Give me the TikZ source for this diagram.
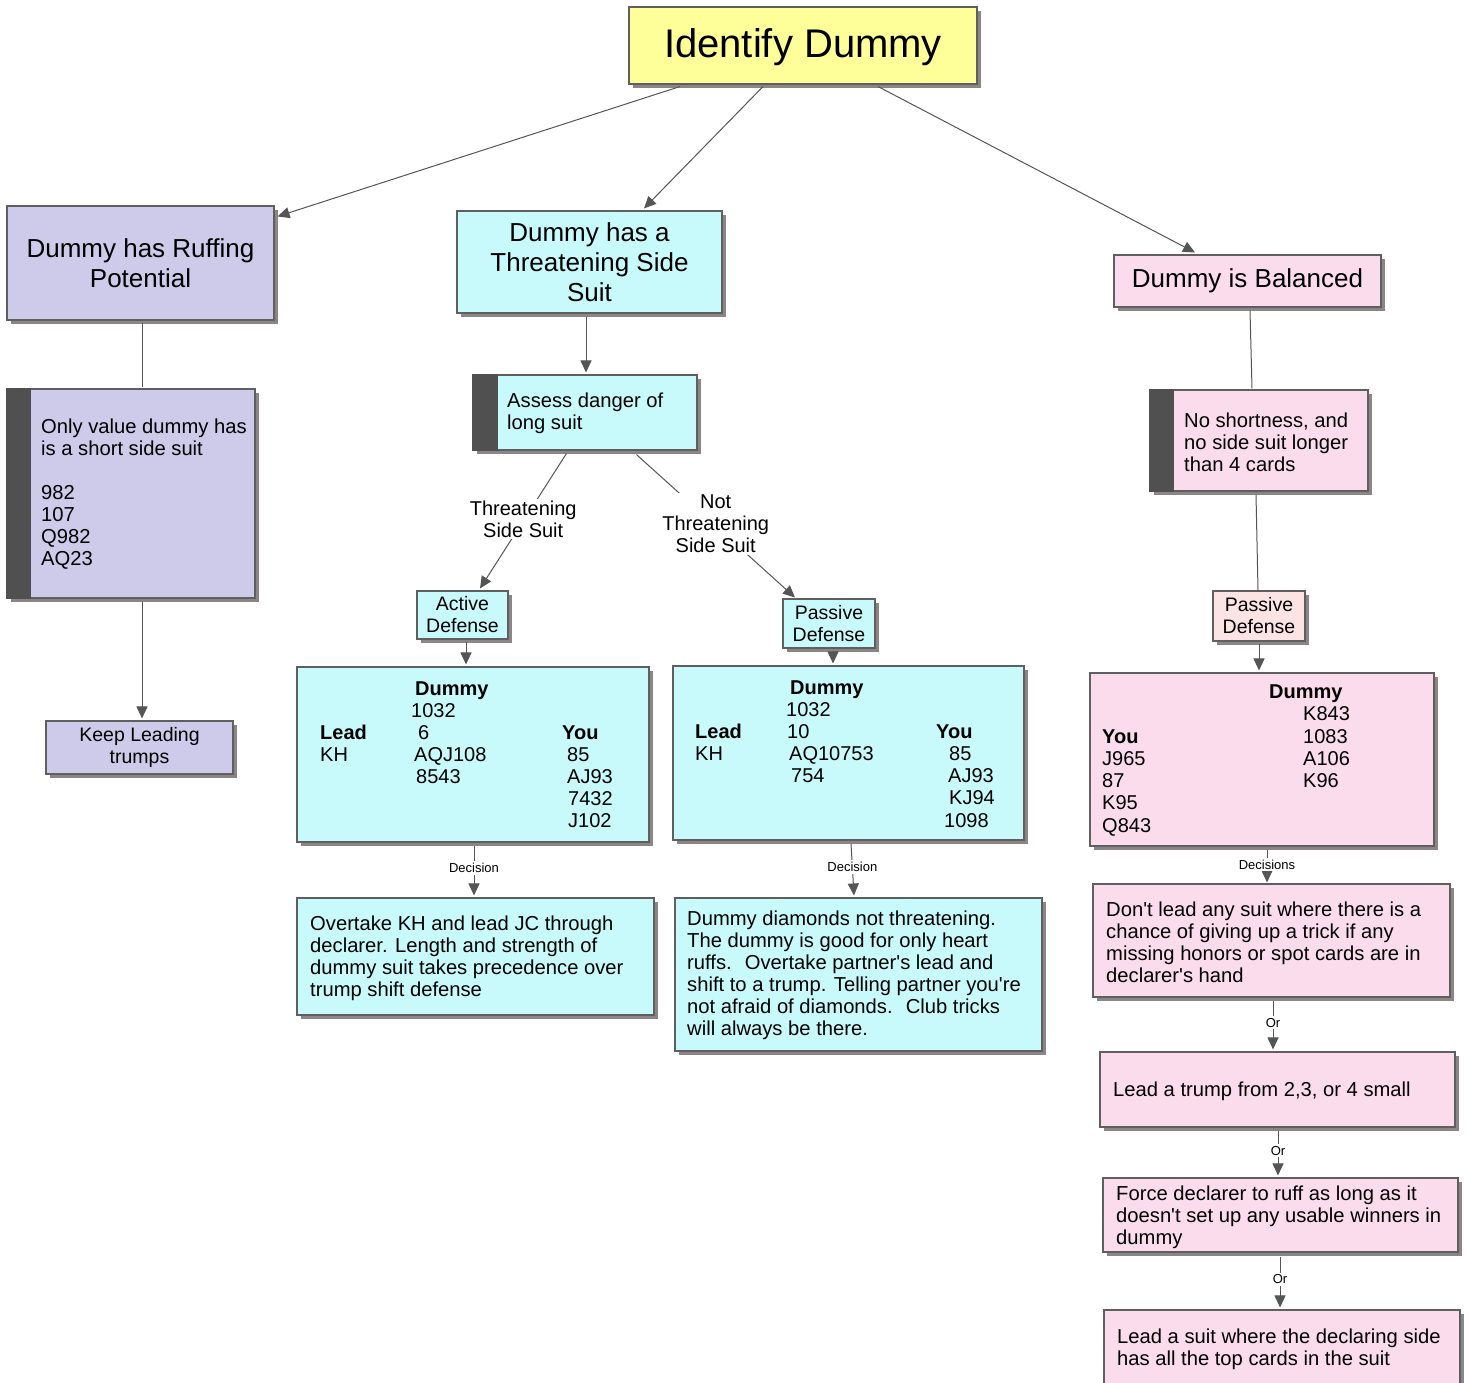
\documentclass[tikz,border=0pt]{standalone}
\usepackage{fontspec}
\setmainfont{Liberation Sans}
\usetikzlibrary{arrows.meta,calc,shadows}
\definecolor{yellowc}{RGB}{255,255,153}
\definecolor{lavc}{RGB}{206,202,233}
\definecolor{cyanc}{RGB}{200,250,251}
\definecolor{pinkc}{RGB}{250,220,236}
\definecolor{salmc}{RGB}{253,228,228}
\definecolor{borderc}{RGB}{95,95,95}
\definecolor{shadowc}{RGB}{140,133,133}
\definecolor{barc}{RGB}{80,80,80}
\definecolor{linec}{RGB}{85,85,85}
\newcommand\aps{\textquotesingle}
\newcounter{tcnt}
\newcommand\tline[3]{\stepcounter{tcnt}\node[tt] (tl\arabic{tcnt}) at (#1,#2) {#3};}
\tikzset{
  box/.style={draw=borderc, line width=1.1pt, inner sep=0pt, align=center,
    drop shadow={shadow xshift=4pt,shadow yshift=-4pt,opacity=1,fill=shadowc}},
  conn/.style={draw=linec, line width=1pt},
  arr/.style={conn, -{Triangle[length=12pt,width=11pt]}},
  lbl/.style={fill=white, inner sep=2pt, text=black, font=\fontsize{13}{15}\selectfont},
  big/.style={font=\fontsize{26}{30}\selectfont},
  med/.style={font=\fontsize{19.5}{22}\selectfont},
  body/.style={font=\fontsize{20.2}{22}\selectfont, inner sep=0pt, align=left, anchor=west},
  tt/.style={font=\fontsize{20}{22}\selectfont, inner sep=0pt, anchor=base west},
  elbl/.style={fill=white, inner sep=2pt, align=center, font=\fontsize{20}{22}\selectfont},
}
\begin{document}
\begin{tikzpicture}[x=1pt,y=-1pt]
\useasboundingbox (0,0) rectangle (1469,1383);
\fill[white] (0,0) rectangle (1469,1383);

% boxes
\node[box, fill=yellowc, minimum width=348pt, minimum height=77pt] (title) at (803,45.5) {};
\node[font=\fontsize{40}{46}\selectfont, inner sep=0pt] (titleT) at (803,47.5) {Identify Dummy};
\node[box, fill=lavc, minimum width=267pt, minimum height=114pt, big] (ruff) at (140.5,263) {Dummy has Ruffing\\Potential};
\node[box, fill=cyanc, minimum width=265pt, minimum height=102pt, big] (threat) at (589.5,262) {Dummy has a\\Threatening Side\\Suit};
\node[box, fill=pinkc, minimum width=267pt, minimum height=52pt, big] (bal) at (1247.5,281) {Dummy is Balanced};

\node[box, fill=lavc, minimum width=248pt, minimum height=209pt] (only) at (131,493.5) {};
\fill[barc] (only.north west) rectangle ($(only.south west)+(25,0)$);
\node[body] (onlyT) at (41,494) {Only value dummy has\\is a short side suit\\[22pt]982\\107\\Q982\\AQ23};

\node[box, fill=lavc, minimum width=187pt, minimum height=53pt, med] (keep) at (139.5,747.5) {Keep Leading\\trumps};

\node[box, fill=cyanc, minimum width=224pt, minimum height=75pt] (assess) at (585,412.5) {};
\fill[barc] (assess.north west) rectangle ($(assess.south west)+(26,0)$);
\node[body] (assessT) at (507,413) {Assess danger of\\long suit};

\node[box, fill=cyanc, minimum width=91pt, minimum height=48pt, med] (active) at (462.5,615) {Active\\Defense};
\node[box, fill=cyanc, minimum width=92pt, minimum height=49pt, med] (pass1) at (829,623.5) {Passive\\Defense};

\node[box, fill=cyanc, minimum width=352pt, minimum height=175pt] (tab1) at (473,754.5) {};
\node[box, fill=cyanc, minimum width=351pt, minimum height=174pt] (tab2) at (848.5,753) {};

\node[box, fill=cyanc, minimum width=357pt, minimum height=117pt] (over) at (475.5,956.5) {};
\node[body] (overT) at (310,958) {Overtake KH and lead JC through\\declarer. Length and strength of\\dummy suit takes precedence over\\trump shift defense};

\node[box, fill=cyanc, minimum width=367pt, minimum height=153pt] (diam) at (858.5,974.5) {};
\node[body] (diamT) at (687,975) {Dummy diamonds not threatening.\\The dummy is good for only heart\\ruffs.~ Overtake partner\aps s lead and\\shift to a trump. Telling partner you\aps re\\not afraid of diamonds.~ Club tricks\\will always be there.};

\node[box, fill=pinkc, minimum width=218pt, minimum height=101pt] (noshort) at (1259,440.5) {};
\fill[barc] (noshort.north west) rectangle ($(noshort.south west)+(25,0)$);
\node[body] (noshortT) at (1184,442) {No shortness, and\\no side suit longer\\than 4 cards};

\node[box, fill=salmc, minimum width=92pt, minimum height=50pt, med] (pass2) at (1259,616) {Passive\\Defense};

\node[box, fill=pinkc, minimum width=344pt, minimum height=173pt] (tab3) at (1262,759.5) {};

\node[box, fill=pinkc, minimum width=357pt, minimum height=113pt] (dont) at (1271.5,940.5) {};
\node[body] (dontT) at (1106,942) {Don\aps t lead any suit where there is a\\chance of giving up a trick if any\\missing honors or spot cards are in\\declarer\aps s hand};

\node[box, fill=pinkc, minimum width=355pt, minimum height=75pt] (trump) at (1277.5,1089.5) {};
\node[body] (trumpT) at (1113,1091) {Lead a trump from 2,3, or 4 small};

\node[box, fill=pinkc, minimum width=355pt, minimum height=74pt] (force) at (1280.5,1215) {};
\node[body] (forceT) at (1116,1217) {Force declarer to ruff as long as it\\doesn\aps t set up any usable winners in\\dummy};

\node[box, fill=pinkc, minimum width=356pt, minimum height=90pt] (suit) at (1282,1355) {};
\node[body] (suitT) at (1117,1349) {Lead a suit where the declaring side\\has all the top cards in the suit};

% table texts
\tline{415}{695}{\textbf{Dummy}}
\tline{411}{717}{1032}
\tline{320}{739}{\textbf{Lead}}
\tline{418}{739}{6}
\tline{562}{739}{\textbf{You}}
\tline{320}{761}{KH}
\tline{414}{761}{AQJ108}
\tline{567}{761}{85}
\tline{416}{783}{8543}
\tline{567}{783}{AJ93}
\tline{568}{805}{7432}
\tline{568}{827}{J102}

\tline{790}{694}{\textbf{Dummy}}
\tline{786}{716}{1032}
\tline{695}{738}{\textbf{Lead}}
\tline{787}{738}{10}
\tline{936}{738}{\textbf{You}}
\tline{695}{760}{KH}
\tline{789}{760}{AQ10753}
\tline{949}{760}{85}
\tline{791}{782}{754}
\tline{948}{782}{AJ93}
\tline{949}{804}{KJ94}
\tline{944}{827}{1098}

\tline{1269}{698}{\textbf{Dummy}}
\tline{1303}{720}{K843}
\tline{1102}{743}{\textbf{You}}
\tline{1303}{743}{1083}
\tline{1102}{765}{J965}
\tline{1303}{765}{A106}
\tline{1102}{787}{87}
\tline{1303}{787}{K96}
\tline{1102}{809}{K95}
\tline{1102}{832}{Q843}

% connectors
\draw[arr] ($(title.south)+(-123,2)$) -- ($(ruff.north east)+(3,11)$);
\draw[arr] ($(title.south)+(-40,2)$) -- ($(threat.north)+(54.5,-2)$);
\draw[arr] ($(title.south)+(75,2)$) -- ($(bal.north)+(-52.5,-2)$);

\draw[conn] ($(ruff.south)+(1.5,2)$) -- ($(only.north)+(11,-1)$);
\draw[arr] ($(only.south)+(11,3)$) -- ($(keep.north)+(2.5,-2)$);

\draw[arr] ($(threat.south)+(-3.5,3)$) -- ($(assess.north)+(1,-2)$);
\draw[arr] ($(assess.south west)+(94,3)$) -- node[elbl, yshift=2pt] (lblT) {Threatening\\Side Suit} ($(active.north)+(17.5,-2)$);
\draw[arr] ($(assess.south west)+(164,4)$) -- node[elbl, yshift=2pt] (lblN) {Not\\Threatening\\Side Suit} ($(pass1.north)+(-34,-1)$);
\draw[arr] ($(active.south)+(3.5,2)$) -- ($(tab1.north)+(-7,-2)$);
\draw[arr] ($(pass1.south)+(4,2)$) -- ($(tab2.north)+(-15.5,-2)$);
\draw[arr] ($(tab1.south)+(1,3)$) -- node[lbl, pos=0.45] (lblD1) {Decision} ($(over.north)+(-1.5,-2)$);
\draw[arr] ($(tab2.south)+(2.5,3)$) -- node[lbl, pos=0.45] (lblD2) {Decision} ($(diam.north)+(-4.5,-2)$);

\draw[conn] ($(bal.south)+(2.5,3)$) -- ($(noshort.north)+(-7,-1)$);
\draw[conn] ($(noshort.south)+(-3,3)$) -- ($(pass2.north)+(-1,0)$);
\draw[arr] ($(pass2.south)+(0,2)$) -- ($(tab3.north)+(-3,-2)$);
\draw[arr] ($(tab3.south)+(5,3)$) -- node[lbl, pos=0.45] (lblD3) {Decisions} ($(dont.north)+(-4.5,-1)$);
\draw[arr] ($(dont.south)+(1.5,3)$) -- node[lbl, pos=0.45] (lblO1) {Or} ($(trump.north)+(-4.5,-2)$);
\draw[arr] ($(trump.south)+(0.5,3)$) -- node[lbl, pos=0.45] (lblO2) {Or} ($(force.north)+(-2.5,-2)$);
\draw[arr] ($(force.south)+(-0.5,4)$) -- node[lbl, pos=0.45] (lblO3) {Or} ($(suit.north)+(-2,-2)$);
\end{tikzpicture}
\end{document}
